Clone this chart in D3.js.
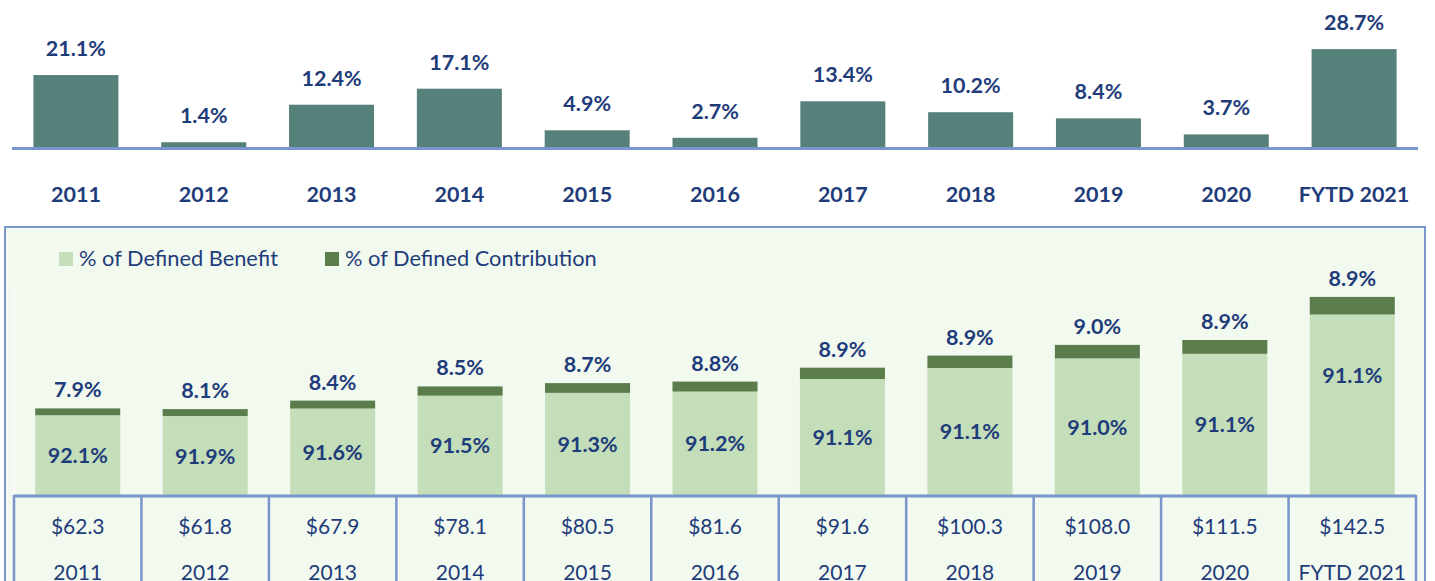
<!DOCTYPE html>
<html>
<head>
<meta charset="utf-8">
<script src="https://d3js.org/d3.v7.min.js"></script>
<style>
body, html {
    margin: 0;
    padding: 0;
    background: #fff;
    font-family: Lato, "Open Sans", sans-serif;
}
.lbl {
  fill: #1f3c7a;
  font-weight: bold;
  font-size: 21.5px;
  text-anchor: middle;
}
.cell {
  fill: #1f3c7a;
  font-size: 21px;
  text-anchor: middle;
}
.grid {
  stroke: #7895cc;
  fill: none;
}
</style>
</head>
<body>
<div id="chart"></div>
<script>

  var width = 1435,
      height = 581;

  // data
  var years = ["2011", "2012", "2013", "2014", "2015", "2016", "2017", "2018", "2019", "2020", "FYTD 2021"];
  var returns = [21.1, 1.4, 12.4, 17.1, 4.9, 2.7, 13.4, 10.2, 8.4, 3.7, 28.7];
  var dbPct = [92.1, 91.9, 91.6, 91.5, 91.3, 91.2, 91.1, 91.1, 91.0, 91.1, 91.1];
  var dcPct = [7.9, 8.1, 8.4, 8.5, 8.7, 8.8, 8.9, 8.9, 9.0, 8.9, 8.9];
  var assets = [62.3, 61.8, 67.9, 78.1, 80.5, 81.6, 91.6, 100.3, 108.0, 111.5, 142.5];
  var seriesNames = ["% of Defined Benefit", "% of Defined Contribution"];

  var colors = {
    bar: "#56807a",
    db: "#c4deba",
    dc: "#5b7c4b",
    panel: "#f2f9ef",
    line: "#7895cc"
  };

  var svg = d3.select('#chart').append('svg')
    .attr('width', width)
    .attr('height', height);

  // ---- top: annual returns ----
  var xTop = d3.scaleBand()
    .domain(years)
    .range([12, 1418])
    .paddingInner(0.335)
    .paddingOuter(0.1675);

  var yTop = d3.scaleLinear()
    .domain([0, 30])
    .range([147, 44.7]);

  var upper = svg.append('g');

  upper.selectAll('rect.ret')
    .data(years)
    .enter().append('rect')
    .attr('class', 'ret')
    .attr('x', function(d) { return xTop(d); })
    .attr('width', xTop.bandwidth())
    .attr('y', function(d, i) { return yTop(returns[i]); })
    .attr('height', function(d, i) { return yTop(0) - yTop(returns[i]); })
    .attr('fill', colors.bar);

  upper.append('line')
    .attr('x1', 12).attr('x2', 1418)
    .attr('y1', 148.5).attr('y2', 148.5)
    .attr('stroke', colors.line)
    .attr('stroke-width', 3);

  upper.selectAll('text.retlbl')
    .data(years)
    .enter().append('text')
    .attr('class', 'lbl')
    .attr('x', function(d) { return xTop(d) + xTop.bandwidth() / 2; })
    .attr('y', function(d, i) { return yTop(returns[i]) - 19; })
    .text(function(d, i) { return returns[i].toFixed(1) + '%'; });

  var xAxisTop = d3.axisBottom(xTop).tickSize(0).tickPadding(0);
  var axg = upper.append('g')
    .attr('transform', 'translate(0,186)')
    .call(xAxisTop);
  axg.attr('font-size', null).attr('font-family', null);
  axg.select('.domain').remove();
  axg.selectAll('text')
    .attr('class', 'lbl')
    .attr('fill', null)
    .attr('dy', null)
    .attr('y', 16);

  // ---- bottom: asset mix panel ----
  var panel = svg.append('g');
  panel.append('rect')
    .attr('x', 5).attr('y', 227)
    .attr('width', 1420).attr('height', 400)
    .attr('fill', colors.panel)
    .attr('stroke', colors.line)
    .attr('stroke-width', 2);

  // faint plot-area edge
  panel.append('line')
    .attr('x1', 14).attr('x2', 14)
    .attr('y1', 287).attr('y2', 495)
    .attr('stroke', '#fbfbf7')
    .attr('stroke-width', 2);

  // legend
  var legend = panel.selectAll('g.leg')
    .data(seriesNames)
    .enter().append('g')
    .attr('transform', function(d, i) { return 'translate(' + [59, 325][i] + ',252)'; });
  legend.append('rect')
    .attr('width', 14).attr('height', 14)
    .attr('fill', function(d, i) { return i === 0 ? colors.db : colors.dc; });
  legend.append('text')
    .attr('x', 20).attr('y', 14)
    .attr('fill', '#1f3c7a')
    .style('font-size', '21.8px')
    .text(function(d) { return d; });

  var xBot = d3.scaleBand()
    .domain(years)
    .range([14, 1416])
    .paddingInner(0.333)
    .paddingOuter(0.1665);

  var yBot = d3.scaleLinear()
    .domain([0, 150])
    .range([495, 286.5]);

  var stackData = years.map(function(d, i) {
    return { year: d, db: assets[i] * dbPct[i] / 100, dc: assets[i] * dcPct[i] / 100, i: i };
  });
  var stack = d3.stack().keys(['db', 'dc'])(stackData);

  panel.selectAll('g.layer')
    .data(stack)
    .enter().append('g')
    .attr('fill', function(d) { return d.key === 'db' ? colors.db : colors.dc; })
    .selectAll('rect')
    .data(function(d) { return d; })
    .enter().append('rect')
    .attr('x', function(d) { return xBot(d.data.year); })
    .attr('width', xBot.bandwidth())
    .attr('y', function(d) { return yBot(d[1]); })
    .attr('height', function(d) { return yBot(d[0]) - yBot(d[1]); });

  // DC labels above the stacks
  panel.selectAll('text.dc')
    .data(stack[1])
    .enter().append('text')
    .attr('class', 'lbl')
    .attr('x', function(d) { return xBot(d.data.year) + xBot.bandwidth() / 2; })
    .attr('y', function(d) { return yBot(d[1]) - 11; })
    .text(function(d) { return dcPct[d.data.i].toFixed(1) + '%'; });

  // DB labels inside the light segment
  panel.selectAll('text.db')
    .data(stack[0])
    .enter().append('text')
    .attr('class', 'lbl')
    .attr('x', function(d) { return xBot(d.data.year) + xBot.bandwidth() / 2; })
    .attr('y', function(d) {
      var mid = (yBot(d[0]) + yBot(d[1])) / 2;
      // last label sits higher in the original
      if (d.data.year === 'FYTD 2021') mid -= 30;
      return mid + 8;
    })
    .text(function(d) { return dbPct[d.data.i].toFixed(1) + '%'; });

  // table below
  var step = xBot.step();
  var table = panel.append('g');
  table.append('line')
    .attr('class', 'grid')
    .attr('x1', 14).attr('x2', 1416)
    .attr('y1', 496).attr('y2', 496)
    .attr('stroke-width', 3);
  table.selectAll('line.v')
    .data(d3.range(years.length + 1))
    .enter().append('line')
    .attr('class', 'grid')
    .attr('x1', function(d) { return 14 + d * step; })
    .attr('x2', function(d) { return 14 + d * step; })
    .attr('y1', 495).attr('y2', 600)
    .attr('stroke-width', 2.5);

  table.selectAll('text.amt')
    .data(years)
    .enter().append('text')
    .attr('class', 'cell')
    .attr('x', function(d) { return xBot(d) + xBot.bandwidth() / 2; })
    .attr('y', 534)
    .text(function(d, i) { return '$' + assets[i].toFixed(1); });

  table.selectAll('text.yr')
    .data(years)
    .enter().append('text')
    .attr('class', 'cell')
    .attr('x', function(d) { return xBot(d) + xBot.bandwidth() / 2; })
    .attr('y', 580)
    .text(function(d) { return d; });

</script>
</body>
</html>
